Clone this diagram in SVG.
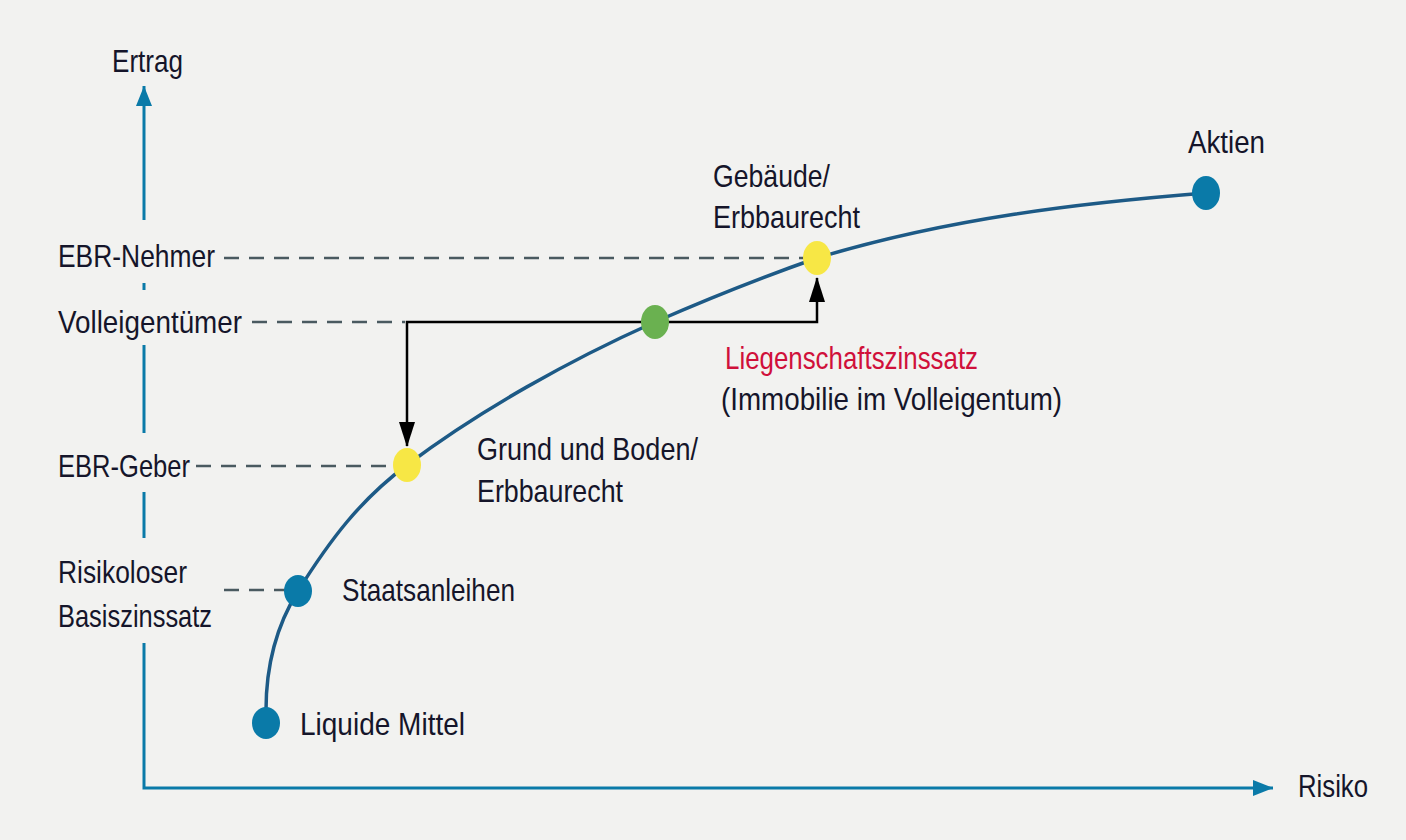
<svg xmlns="http://www.w3.org/2000/svg" width="1406" height="840" viewBox="0 0 1406 840">
<style>
text{font-family:"Liberation Sans",Arial,sans-serif;font-size:32px;fill:#15152a}
.red{fill:#d0103a}
.axis{stroke:#0a7aa8;stroke-width:3;fill:none}
.dash{stroke:#4a5a60;stroke-width:2.5;stroke-dasharray:15 10;fill:none}
.blk{stroke:#000;stroke-width:2.5;fill:none}
.curve{stroke:#1d5a86;stroke-width:3.5;fill:none}
.blue{fill:#0a7aa8}.yel{fill:#f7e745}.grn{fill:#6ab150}
</style>
<defs>
<marker id="ah" viewBox="0 0 20 16" refX="20" refY="8" markerWidth="20" markerHeight="16" markerUnits="userSpaceOnUse" orient="auto"><path d="M0,0L20,8L0,16z" fill="#0a7aa8"/></marker>
</defs>
<rect width="1406" height="840" fill="#f2f2f0"/>
<g id="axes">
<path class="axis" d="M144,220V86" marker-end="url(#ah)"/>
<path class="axis" d="M144,283V290"/>
<path class="axis" d="M144,345V433"/>
<path class="axis" d="M144,492V538"/>
<path class="axis" d="M144,643V788H1273" marker-end="url(#ah)"/>
</g>
<g id="connectors">
<path class="dash" d="M224,258H808"/>
<path class="dash" d="M252,322H405"/>
<path class="dash" d="M196,466H395"/>
<path class="dash" d="M224,590H290"/>
<path class="curve" d="M266,710C266,660 280,620 298,591C330,540 360,500 407,465C480,410 570,360 655,322C710,298 760,278 817,258C950,218 1080,203 1206,193"/>
<path class="blk" d="M655,322H407V446"/>
<path class="blk" d="M655,322H817V278"/>
<path d="M399,422L407,447L415,422z" fill="#000"/>
<path d="M809,302L817,277L825,302z" fill="#000"/>
</g>
<g id="n-liquide"><ellipse class="blue" cx="266" cy="723" rx="14" ry="16"/><text x="300" y="735" textLength="165" lengthAdjust="spacingAndGlyphs">Liquide Mittel</text></g>
<g id="n-staat"><ellipse class="blue" cx="298" cy="591" rx="14" ry="16"/><text x="342" y="601" textLength="173" lengthAdjust="spacingAndGlyphs">Staatsanleihen</text></g>
<g id="n-grund"><ellipse class="yel" cx="407" cy="465" rx="14" ry="17"/><text x="477" y="460" textLength="221" lengthAdjust="spacingAndGlyphs">Grund und Boden/</text><text x="477" y="502" textLength="146" lengthAdjust="spacingAndGlyphs">Erbbaurecht</text></g>
<g id="n-voll"><ellipse class="grn" cx="655" cy="322" rx="14" ry="17"/></g>
<g id="n-liegen"><text class="red" x="725" y="369" textLength="253" lengthAdjust="spacingAndGlyphs">Liegenschaftszinssatz</text><text x="721" y="410" textLength="341" lengthAdjust="spacingAndGlyphs">(Immobilie im Volleigentum)</text></g>
<g id="n-gebaeude"><ellipse class="yel" cx="817" cy="258" rx="14" ry="17"/><text x="713" y="187" textLength="117" lengthAdjust="spacingAndGlyphs">Gebäude/</text><text x="713" y="228" textLength="147" lengthAdjust="spacingAndGlyphs">Erbbaurecht</text></g>
<g id="n-aktien"><ellipse class="blue" cx="1206" cy="193" rx="14" ry="17"/><text x="1188" y="153" textLength="77" lengthAdjust="spacingAndGlyphs">Aktien</text></g>
<g id="labels">
<text x="112" y="72" textLength="71" lengthAdjust="spacingAndGlyphs">Ertrag</text>
<text x="1298" y="797" textLength="70" lengthAdjust="spacingAndGlyphs">Risiko</text>
<text x="58" y="267" textLength="157" lengthAdjust="spacingAndGlyphs">EBR-Nehmer</text>
<text x="58" y="333" textLength="184" lengthAdjust="spacingAndGlyphs">Volleigentümer</text>
<text x="58" y="477" textLength="132" lengthAdjust="spacingAndGlyphs">EBR-Geber</text>
<text x="58" y="583" textLength="129" lengthAdjust="spacingAndGlyphs">Risikoloser</text>
<text x="58" y="627" textLength="154" lengthAdjust="spacingAndGlyphs">Basiszinssatz</text>
</g>
</svg>
